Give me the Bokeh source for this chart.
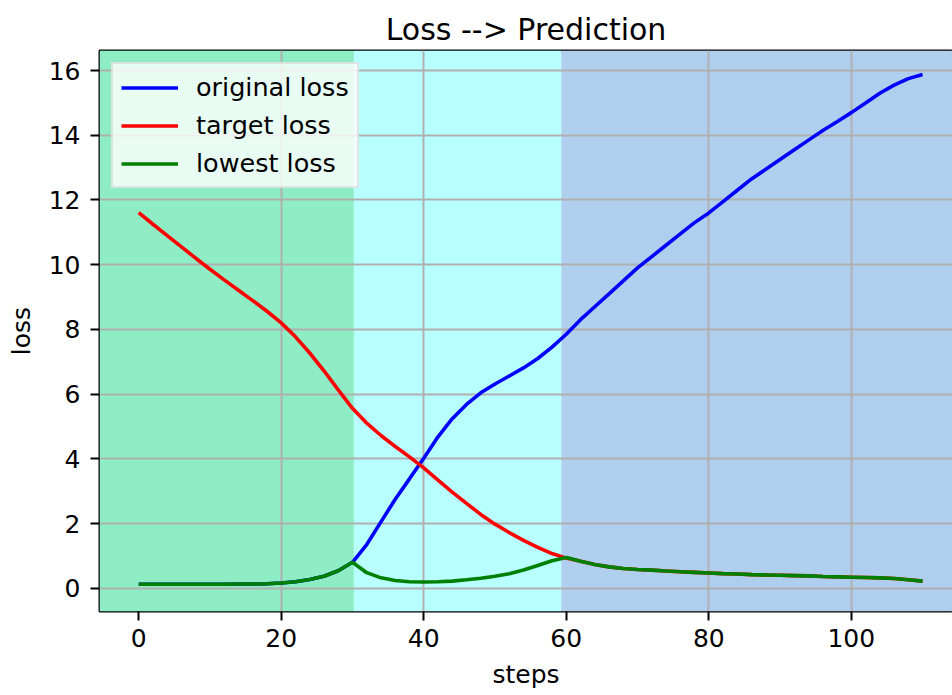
from bokeh.plotting import figure
from bokeh.models import BoxAnnotation, Range1d, Legend, LegendItem, FixedTicker
from bokeh.embed import file_html
from bokeh.resources import INLINE

# ---- data ----
steps = list(range(0, 111, 2))

original_loss = [0.12, 0.12, 0.12, 0.12, 0.12, 0.12, 0.12, 0.13, 0.13, 0.14,
                 0.16, 0.20, 0.27, 0.37, 0.54, 0.80, 1.35, 2.05, 2.75, 3.38,
                 4.02, 4.68, 5.24, 5.68, 6.04, 6.31, 6.56, 6.81, 7.10, 7.45,
                 7.85, 8.30, 8.70, 9.10, 9.50, 9.90, 10.25, 10.60, 10.95, 11.30,
                 11.60, 11.95, 12.30, 12.65, 12.95, 13.25, 13.55, 13.85, 14.15, 14.42,
                 14.70, 15.00, 15.30, 15.55, 15.75, 15.88]

target_loss = [11.61, 11.25, 10.90, 10.55, 10.20, 9.86, 9.53, 9.21, 8.89, 8.56,
               8.20, 7.77, 7.27, 6.72, 6.13, 5.56, 5.10, 4.72, 4.38, 4.06,
               3.72, 3.34, 2.97, 2.62, 2.28, 1.98, 1.72, 1.48, 1.26, 1.07,
               0.93, 0.83, 0.73, 0.66, 0.61, 0.58, 0.56, 0.53, 0.51, 0.49,
               0.47, 0.45, 0.44, 0.42, 0.41, 0.40, 0.39, 0.38, 0.36, 0.35,
               0.34, 0.33, 0.32, 0.30, 0.26, 0.22]

lowest_loss = [0.12, 0.12, 0.12, 0.12, 0.12, 0.12, 0.12, 0.13, 0.13, 0.14,
               0.16, 0.20, 0.27, 0.37, 0.54, 0.80, 0.48, 0.32, 0.24, 0.20,
               0.19, 0.20, 0.22, 0.26, 0.31, 0.37, 0.45, 0.56, 0.70, 0.85,
               0.95, 0.83, 0.73, 0.66, 0.61, 0.58, 0.56, 0.53, 0.51, 0.49,
               0.47, 0.45, 0.44, 0.42, 0.41, 0.40, 0.39, 0.38, 0.36, 0.35,
               0.34, 0.33, 0.32, 0.30, 0.26, 0.22]

phase_edges = [-5.5, 30.2, 59.3, 115.5]
phase_colors = ["#8EEDC5", "#B8FFFF", "#B0CFEE"]

x_ticks = [0, 20, 40, 60, 80, 100]
x_grid = [20, 40, 80, 100]
y_ticks = [0, 2, 4, 6, 8, 10, 12, 14, 16]

FONT = "DejaVu Sans"

p = figure(width=952, height=695, output_backend="svg", toolbar_location=None,
           x_range=Range1d(-5.5, 114.2), y_range=Range1d(-0.72, 16.62),
           min_border_left=99, min_border_right=0, min_border_top=50,
           min_border_bottom=84, background_fill_color="white",
           border_fill_color="white")

# phase background spans (below grid)
for i, c in enumerate(phase_colors):
    p.add_layout(BoxAnnotation(left=phase_edges[i], right=phase_edges[i + 1],
                               fill_color=c, fill_alpha=1.0, line_color=None,
                               level="image"))

r1 = p.line(steps, original_loss, line_color="#0000ff", line_width=3.6)
r2 = p.line(steps, target_loss, line_color="#ff0000", line_width=3.6)
r3 = p.line(steps, lowest_loss, line_color="#008000", line_width=3.6)

# title
p.title.text = "Loss --> Prediction"
p.title.align = "center"
p.title.text_font = FONT
p.title.text_font_size = "30px"
p.title.text_font_style = "normal"
p.title.text_color = "black"
p.title.standoff = 8
p.title.offset = 4

# axes
p.xaxis.ticker = FixedTicker(ticks=x_ticks)
p.yaxis.ticker = FixedTicker(ticks=y_ticks)
p.xaxis.axis_label = "steps"
p.yaxis.axis_label = "loss"
for ax in (p.xaxis[0], p.yaxis[0]):
    ax.axis_line_color = None
    ax.major_tick_out = 9
    ax.major_tick_in = 0
    ax.major_tick_line_width = 2
    ax.major_tick_line_color = "black"
    ax.minor_tick_line_color = None
    ax.major_label_text_font = FONT
    ax.major_label_text_font_size = "25px"
    ax.major_label_text_color = "black"
    ax.axis_label_text_font = FONT
    ax.axis_label_text_font_size = "25px"
    ax.axis_label_text_font_style = "normal"
    ax.axis_label_text_color = "black"
    ax.axis_label_standoff = 10
p.xaxis.major_label_standoff = 8
p.yaxis.major_label_standoff = 10

p.xgrid.ticker = FixedTicker(ticks=x_grid)
p.grid.grid_line_color = "#b0b0b0"
p.grid.grid_line_width = 2

p.outline_line_color = "black"
p.outline_line_width = 2

legend = Legend(items=[LegendItem(label="original loss", renderers=[r1]),
                       LegendItem(label="target loss", renderers=[r2]),
                       LegendItem(label="lowest loss", renderers=[r3])],
                location="top_left", margin=12, padding=8, spacing=8,
                label_standoff=18, glyph_width=57, glyph_height=25,
                label_height=25, label_text_font=FONT,
                label_text_font_size="25.5px", label_text_color="black",
                border_line_color="#cccccc", border_line_width=2,
                background_fill_color="white", background_fill_alpha=0.8)
p.add_layout(legend)

open("out.html", "w").write(file_html(p, INLINE))
